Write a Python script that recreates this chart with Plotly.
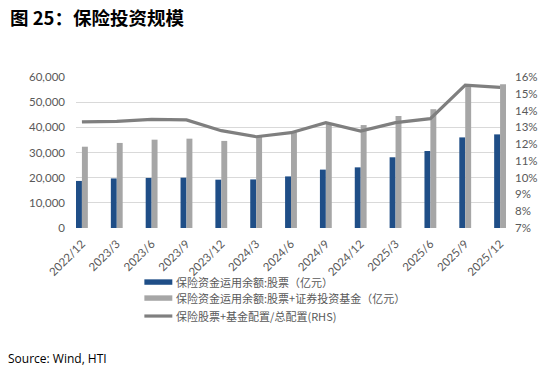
import plotly.graph_objects as go

categories = ["2022/12", "2023/3", "2023/6", "2023/9", "2023/12", "2024/3", "2024/6",
              "2024/9", "2024/12", "2025/3", "2025/6", "2025/9", "2025/12"]
stocks = [18700, 19700, 19900, 20000, 19200, 19300, 20500, 23200, 24100, 28100, 30600, 36000, 37200]
stocks_funds = [32300, 33800, 35100, 35500, 34600, 36200, 38000, 41400, 40900, 44500, 47200, 56800, 57100]
ratio_pct = [13.32, 13.36, 13.48, 13.44, 12.80, 12.44, 12.68, 13.28, 12.78, 13.28, 13.52, 15.52, 15.38]

names = ["保险资金运用余额:股票（亿元）",
         "保险资金运用余额:股票+证券投资基金（亿元）",
         "保险股票+基金配置/总配置(RHS)"]
colors = ["#1F4E87", "#A6A6A6", "#7F7F7F"]

title = "图 25：保险投资规模"
source = "Source: Wind, HTI"

fig = go.Figure()
fig.add_trace(go.Bar(x=categories, y=stocks, name=names[0], marker_color=colors[0],
                     marker_line_width=0))
fig.add_trace(go.Bar(x=categories, y=stocks_funds, name=names[1], marker_color=colors[1],
                     marker_line_width=0))
fig.add_trace(go.Scatter(x=categories, y=ratio_pct, name=names[2], mode="lines",
                         line=dict(color=colors[2], width=3.2), yaxis="y2"))

tickfont = dict(family="Lato, Liberation Sans, sans-serif", size=11.5, color="#595959")

fig.update_layout(
    width=550, height=370,
    margin=dict(l=76, r=41, t=77, b=142),
    paper_bgcolor="white", plot_bgcolor="white",
    barmode="group", bargap=0.66, bargroupgap=0,
    showlegend=False,
    xaxis=dict(type="category", range=[-0.17, 12.17], tickangle=-45, tickfont=tickfont,
               showgrid=False, showline=False, ticks="", ticklabelstandoff=6),
    yaxis=dict(range=[0, 60000], dtick=10000, tickformat=",", tickfont=tickfont,
               showgrid=True, gridcolor="#D9D9D9", gridwidth=1, zeroline=False,
               ticks="", showline=False, ticklabelstandoff=10),
    yaxis2=dict(range=[7, 16], dtick=1, ticksuffix="%", overlaying="y", side="right",
                tickfont=tickfont, showgrid=False, zeroline=False, ticks="", showline=False,
                ticklabelstandoff=8),
)

# custom legend
legend_y = [-0.358, -0.464, -0.583]
x0, x1, xt = 0.159, 0.224, 0.228
for i, (nm, c) in enumerate(zip(names, colors)):
    if i < 2:
        fig.add_shape(type="rect", xref="paper", yref="paper", x0=x0, x1=x1,
                      y0=legend_y[i] - 0.018, y1=legend_y[i] + 0.018,
                      fillcolor=c, line_width=0)
    else:
        fig.add_shape(type="line", xref="paper", yref="paper", x0=x0, x1=x1,
                      y0=legend_y[i], y1=legend_y[i], line=dict(color=c, width=3.2))
    fig.add_annotation(xref="paper", yref="paper", x=xt, y=legend_y[i], text=nm,
                       showarrow=False, xanchor="left", yanchor="middle",
                       font=dict(family="Noto Sans CJK SC", size=11, color="#595959"))

fig.add_annotation(xref="paper", yref="paper", x=-76/433, y=(228 - 17) / 151, text="<b>" + title + "</b>",
                   showarrow=False, xanchor="left", yanchor="middle", xshift=7,
                   font=dict(family="Noto Sans CJK SC", size=18.5, color="#000000"))
fig.add_annotation(xref="paper", yref="paper", x=-76/433, y=(228 - 358) / 151, text=source,
                   showarrow=False, xanchor="left", yanchor="middle", xshift=5,
                   font=dict(family="Open Sans, sans-serif", size=12, color="#000000"))

fig.write_html("out.html", config={"displayModeBar": False},
               post_script="document.body.style.margin='0';")
